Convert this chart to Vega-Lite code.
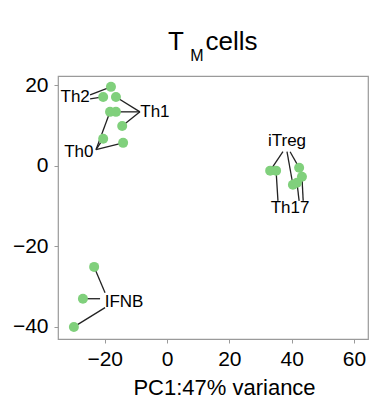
{
  "$schema": "https://vega.github.io/schema/vega-lite/v6.json",
  "autosize": {"type": "none"},
  "padding": {"left": 58, "top": 76, "right": 20, "bottom": 68},
  "width": 310,
  "height": 263,
  "title": {
    "text": "T\u00a0\u00a0\u00a0cells",
    "subtitle": "\u200b\u00a0\u00a0\u00a0\u00a0\u00a0M",
    "fontSize": 26,
    "subtitleFontSize": 16,
    "subtitlePadding": -7,
    "font": "Liberation Sans",
    "subtitleFont": "Liberation Sans",
    "fontWeight": "normal",
    "color": "black",
    "subtitleColor": "black",
    "anchor": "start",
    "align": "left",
    "frame": "group",
    "dx": 110,
    "offset": 10
  },
  "config": {
    "view": {"stroke": "#9a9a9a", "strokeWidth": 1.2},
    "font": "Liberation Sans"
  },
  "datasets": {
    "pts": [
      {"g": "Th2", "x": -18.0, "y": 19.6, "ax": -24.7, "ay": 17.6},
      {"g": "Th2", "x": -20.5, "y": 17.1, "ax": -24.7, "ay": 16.6},
      {"g": "Th1", "x": -16.4, "y": 17.1, "ax": -8.7, "ay": 13.4},
      {"g": "Th1", "x": -16.4, "y": 13.4, "ax": -8.7, "ay": 13.4},
      {"g": "Th1", "x": -14.4, "y": 9.9, "ax": -8.7, "ay": 13.4},
      {"g": "Th0", "x": -18.3, "y": 13.4, "ax": -22.8, "ay": 4.0},
      {"g": "Th0", "x": -20.5, "y": 6.7, "ax": -22.8, "ay": 4.0},
      {"g": "Th0", "x": -14.1, "y": 5.7, "ax": -22.8, "ay": 4.0},
      {"g": "iTreg", "x": 33.1, "y": -1.2, "ax": 37.2, "ay": 3.5},
      {"g": "iTreg", "x": 40.4, "y": -4.7, "ax": 38.5, "ay": 3.5},
      {"g": "iTreg", "x": 42.4, "y": -0.5, "ax": 39.5, "ay": 3.5},
      {"g": "Th17", "x": 35.0, "y": -1.2, "ax": 35.6, "ay": -8.7},
      {"g": "Th17", "x": 41.7, "y": -4.2, "ax": 42.4, "ay": -8.7},
      {"g": "Th17", "x": 43.3, "y": -2.7, "ax": 43.7, "ay": -8.7},
      {"g": "IFNB", "x": -23.4, "y": -25.1, "ax": -19.9, "ay": -31.5},
      {"g": "IFNB", "x": -27.0, "y": -33.0, "ax": -21.5, "ay": -33.0},
      {"g": "IFNB", "x": -29.9, "y": -40.0, "ax": -19.9, "ay": -35.2}
    ],
    "labels": [
      {"label": "Th2", "lx": -29.5, "ly": 17.1},
      {"label": "Th1", "lx": -3.9, "ly": 13.4},
      {"label": "Th0", "lx": -28.3, "ly": 3.5},
      {"label": "iTreg", "lx": 38.5, "ly": 6.2},
      {"label": "Th17", "lx": 39.5, "ly": -10.4},
      {"label": "IFNB", "lx": -13.8, "ly": -33.7}
    ]
  },
  "layer": [
    {
      "data": {"name": "pts"},
      "mark": {"type": "rule", "color": "#222222", "strokeWidth": 1.3},
      "encoding": {
        "x": {
          "field": "x", "type": "quantitative",
          "scale": {"domain": [-35, 64.5], "nice": false, "zero": false},
          "axis": {
            "values": [-20, 0, 20, 40, 60],
            "title": "PC1:47% variance",
            "titleFontSize": 22, "titleFontWeight": "normal", "titleColor": "black",
            "titlePadding": 8, "titleX": 166,
            "labelFontSize": 21, "labelColor": "black", "labelPadding": 5,
            "domain": false, "grid": false,
            "tickColor": "#9a9a9a", "tickSize": 4
          }
        },
        "y": {
          "field": "y", "type": "quantitative",
          "scale": {"domain": [-43, 22.3], "nice": false, "zero": false},
          "axis": {
            "values": [-40, -20, 0, 20],
            "title": null,
            "labelFontSize": 21, "labelColor": "black", "labelPadding": 6,
            "domain": false, "grid": false,
            "tickColor": "#9a9a9a", "tickSize": 4
          }
        },
        "x2": {"field": "ax"},
        "y2": {"field": "ay"}
      }
    },
    {
      "data": {"name": "pts"},
      "mark": {"type": "circle", "color": "#80d07c", "opacity": 1, "size": 100},
      "encoding": {
        "x": {"field": "x", "type": "quantitative"},
        "y": {"field": "y", "type": "quantitative"}
      }
    },
    {
      "data": {"name": "labels"},
      "mark": {"type": "text", "fontSize": 17, "color": "black", "align": "center", "baseline": "middle", "font": "Liberation Sans"},
      "encoding": {
        "x": {"field": "lx", "type": "quantitative"},
        "y": {"field": "ly", "type": "quantitative"},
        "text": {"field": "label"}
      }
    }
  ]
}
